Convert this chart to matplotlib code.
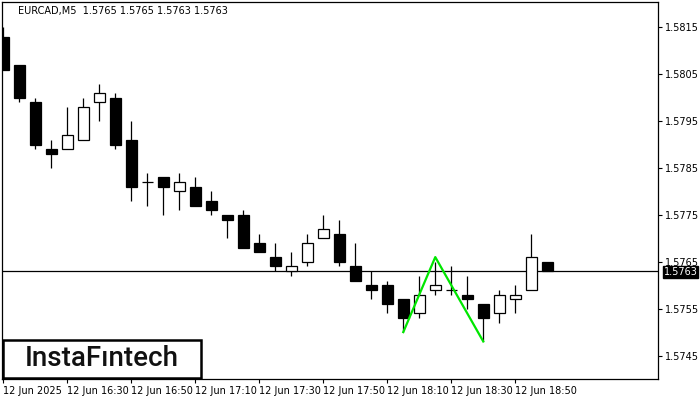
import matplotlib
matplotlib.use("Agg")
import matplotlib.pyplot as plt
from matplotlib.patches import Rectangle

opens = [1.5813, 1.5807, 1.5799, 1.5789, 1.5789, 1.5791, 1.5799, 1.5800, 1.5791, 1.5782,
         1.5783, 1.5780, 1.5781, 1.5778, 1.5775, 1.5775, 1.5769, 1.5766, 1.5763, 1.5765,
         1.5770, 1.5771, 1.5764, 1.5760, 1.5760, 1.5757, 1.5754, 1.5759, 1.5759, 1.5758,
         1.5756, 1.5754, 1.5757, 1.5759, 1.5765]
highs = [1.5815, 1.5807, 1.5800, 1.5791, 1.5798, 1.5800, 1.5803, 1.5801, 1.5795, 1.5784,
         1.5783, 1.5784, 1.5783, 1.5780, 1.5775, 1.5776, 1.5771, 1.5769, 1.5767, 1.5771,
         1.5775, 1.5774, 1.5769, 1.5763, 1.5761, 1.5757, 1.5762, 1.5765, 1.5764, 1.5762,
         1.5756, 1.5759, 1.5760, 1.5771, 1.5765]
lows = [1.5806, 1.5799, 1.5789, 1.5785, 1.5789, 1.5791, 1.5795, 1.5789, 1.5778, 1.5777,
        1.5775, 1.5776, 1.5777, 1.5775, 1.5770, 1.5768, 1.5767, 1.5763, 1.5762, 1.5764,
        1.5770, 1.5764, 1.5761, 1.5757, 1.5754, 1.5750, 1.5753, 1.5758, 1.5758, 1.5755,
        1.5748, 1.5752, 1.5754, 1.5759, 1.5763]
closes = [1.5806, 1.5800, 1.5790, 1.5788, 1.5792, 1.5798, 1.5801, 1.5790, 1.5781, 1.5782,
          1.5781, 1.5782, 1.5777, 1.5776, 1.5774, 1.5768, 1.5767, 1.5764, 1.5764, 1.5769,
          1.5772, 1.5765, 1.5761, 1.5759, 1.5756, 1.5753, 1.5758, 1.5760, 1.5759, 1.5757,
          1.5753, 1.5758, 1.5758, 1.5766, 1.5763]

time_tick_idx = [0, 4, 8, 12, 16, 20, 24, 28, 32]
time_tick_labels = ["12 Jun 2025", "12 Jun 16:30", "12 Jun 16:50", "12 Jun 17:10",
                    "12 Jun 17:30", "12 Jun 17:50", "12 Jun 18:10", "12 Jun 18:30",
                    "12 Jun 18:50"]
price_ticks = [1.5745, 1.5755, 1.5765, 1.5775, 1.5785, 1.5795, 1.5805, 1.5815]

pattern_idx = [25, 27, 30]
pattern_price = [1.5750, 1.5766, 1.5748]

current_price = 1.5763
title = "EURCAD,M5  1.5765 1.5765 1.5763 1.5763"

fig = plt.figure(figsize=(7, 4), dpi=100)
ax = fig.add_axes([2 / 700, 21 / 400, 656 / 700, 377 / 400])

xs = list(range(len(opens)))
ax.vlines(xs, lows, highs, color="black", linewidth=0.9, zorder=2)
for x, o, c in zip(xs, opens, closes):
    face = "white" if c >= o else "black"
    bottom = min(o, c)
    h = abs(c - o)
    if h == 0:
        ax.hlines(o, x - 0.34, x + 0.34, color="black", linewidth=0.9, zorder=3)
    else:
        ax.add_patch(Rectangle((x - 0.33, bottom), 0.66, h, facecolor=face,
                               edgecolor="black", linewidth=0.9, zorder=3))

ax.axhline(current_price, color="black", linewidth=0.9, zorder=1)
ax.plot(pattern_idx, pattern_price, color="#00E600", linewidth=1.6, zorder=4)

ax.set_xlim(-0.08, 40.92)
ax.set_ylim(1.57400, 1.58204)

ax.yaxis.tick_right()
ax.set_yticks(price_ticks)
ax.set_yticklabels([f"{p:.4f}" for p in price_ticks])
ax.set_xticks(time_tick_idx)
ax.set_xticklabels(time_tick_labels)
for lbl in ax.get_xticklabels():
    lbl.set_ha("left")
ax.tick_params(axis="both", direction="out", length=3, width=0.8, labelsize=7,
               colors="black", pad=2)
for s in ax.spines.values():
    s.set_linewidth(0.9)
    s.set_color("black")

ax.text(0.025, 0.975, title, transform=ax.transAxes, fontsize=7, va="center", ha="left")

ax.annotate(f"{current_price:.4f}", xy=(1.0, current_price),
            xycoords=("axes fraction", "data"), xytext=(4, -0.5),
            textcoords="offset points", fontsize=7, color="white", va="center", ha="left",
            bbox=dict(boxstyle="square,pad=0.08", facecolor="black", edgecolor="black"),
            annotation_clip=False)

# logo
fig.patches.append(Rectangle((3 / 700, 22 / 400), 198 / 700, 38 / 400, transform=fig.transFigure,
                             facecolor="white", edgecolor="black", linewidth=1.8, zorder=5))
fig.text(102 / 700, 41 / 400, "InstaFıntech", fontsize=20, family="Roboto", weight="medium",
         ha="center", va="center", color="#111111", zorder=6)

fig.savefig("out.png", dpi=100)
